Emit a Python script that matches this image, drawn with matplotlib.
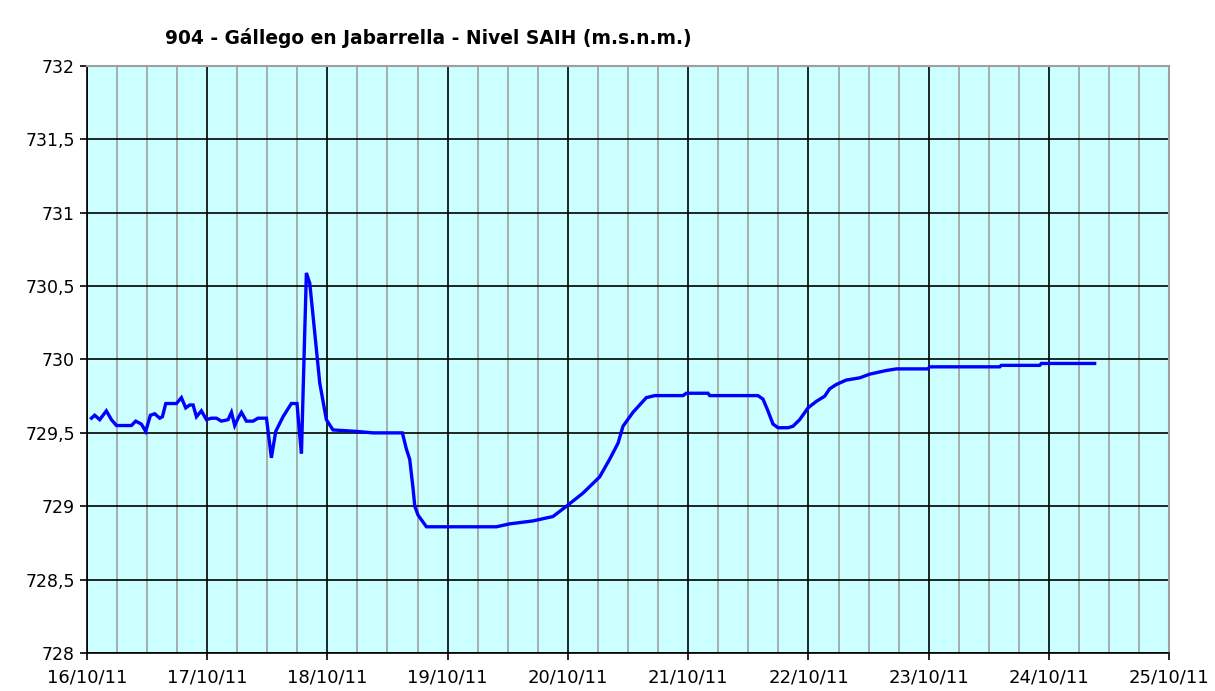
import matplotlib
matplotlib.use('Agg')
from matplotlib import pyplot as plt
from matplotlib.ticker import MultipleLocator, FixedLocator

# days since 16/10/11 00:00 and river level (m.s.n.m.)
days = [0.039, 0.066, 0.108, 0.163, 0.205, 0.247, 0.371, 0.407, 0.454, 0.490,
        0.529, 0.565, 0.607, 0.629, 0.657, 0.745, 0.787, 0.823, 0.856, 0.884,
        0.912, 0.953, 0.995, 1.036, 1.078, 1.119, 1.175, 1.203, 1.230, 1.258,
        1.286, 1.327, 1.383, 1.424, 1.494, 1.535, 1.571, 1.632, 1.701, 1.748,
        1.771, 1.785, 1.798, 1.812, 1.826, 1.854, 1.881, 1.909, 1.937, 1.992,
        2.047, 2.242, 2.380, 2.624, 2.657, 2.685, 2.713, 2.727, 2.754, 2.824,
        3.406, 3.516, 3.710, 3.876, 3.988, 4.126, 4.264, 4.347, 4.417, 4.458,
        4.541, 4.652, 4.722, 4.957, 4.985, 5.165, 5.179, 5.580, 5.622, 5.663,
        5.705, 5.747, 5.830, 5.871, 5.927, 5.996, 6.066, 6.135, 6.176, 6.232,
        6.315, 6.426, 6.509, 6.647, 6.731, 6.994, 7.008, 7.590, 7.603, 7.922,
        7.936, 8.379]
level = [729.60, 729.62, 729.59, 729.65, 729.59, 729.55, 729.55, 729.58, 729.56, 729.51,
         729.62, 729.63, 729.60, 729.61, 729.70, 729.70, 729.74, 729.67, 729.69, 729.69,
         729.61, 729.65, 729.59, 729.60, 729.60, 729.58, 729.59, 729.64, 729.55, 729.60,
         729.64, 729.58, 729.58, 729.60, 729.60, 729.33, 729.51, 729.61, 729.70, 729.70,
         729.48, 729.36, 729.76, 730.18, 730.59, 730.52, 730.30, 730.07, 729.84, 729.59,
         729.52, 729.51, 729.50, 729.50, 729.39, 729.32, 729.12, 729.00, 728.94, 728.86,
         728.86, 728.88, 728.90, 728.93, 729.00, 729.09, 729.20, 729.32, 729.43, 729.545,
         729.64, 729.74, 729.754, 729.754, 729.77, 729.77, 729.754, 729.754, 729.73, 729.65,
         729.56, 729.535, 729.535, 729.545, 729.59, 729.67, 729.715, 729.75, 729.80, 729.83,
         729.86, 729.875, 729.90, 729.925, 729.936, 729.936, 729.95, 729.95, 729.96, 729.96,
         729.973, 729.973]

date_labels = ['16/10/11', '17/10/11', '18/10/11', '19/10/11', '20/10/11',
               '21/10/11', '22/10/11', '23/10/11', '24/10/11', '25/10/11']
y_labels = ['728', '728,5', '729', '729,5', '730', '730,5', '731', '731,5', '732']

fig = plt.figure(figsize=(12.15, 6.91), dpi=100)
ax = fig.add_axes([0.0714, 0.055, 0.891, 0.8495])
ax.set_facecolor('#CCFFFF')

ax.set_xlim(0, len(date_labels) - 1)
ax.set_ylim(728, 732)

# gray lines every 6 hours, black lines each day
ax.xaxis.set_minor_locator(MultipleLocator(0.25))
ax.xaxis.set_major_locator(FixedLocator(range(len(date_labels))))
ax.set_xticklabels(date_labels)
ax.set_yticks([728 + 0.5 * i for i in range(len(y_labels))])
ax.set_yticklabels(y_labels)

ax.grid(which='minor', axis='x', color='#A0A0A0', lw=1.2)
ax.grid(which='major', axis='both', color='black', lw=1.2)
ax.set_axisbelow(True)

ax.plot(days, level, c='#0000FF', lw=2.4, solid_joinstyle='miter', zorder=3)

for s in ['top', 'right']:
    ax.spines[s].set_color('#A0A0A0')
    ax.spines[s].set_linewidth(1.5)
for s in ['left', 'bottom']:
    ax.spines[s].set_color('black')
    ax.spines[s].set_linewidth(1.2)

ax.tick_params(axis='both', which='major', labelsize=12.5, length=5, width=1.2,
               direction='out', colors='black')
ax.tick_params(axis='x', which='minor', length=0)
ax.tick_params(axis='x', which='major', labelsize=13, pad=6)

fig.text(165 / 1215, 1 - 38 / 691, '904 - Gállego en Jabarrella - Nivel SAIH (m.s.n.m.)',
         fontsize=13.4, fontweight='bold', ha='left', va='center')

fig.savefig('out.png', dpi=100, facecolor='white')
